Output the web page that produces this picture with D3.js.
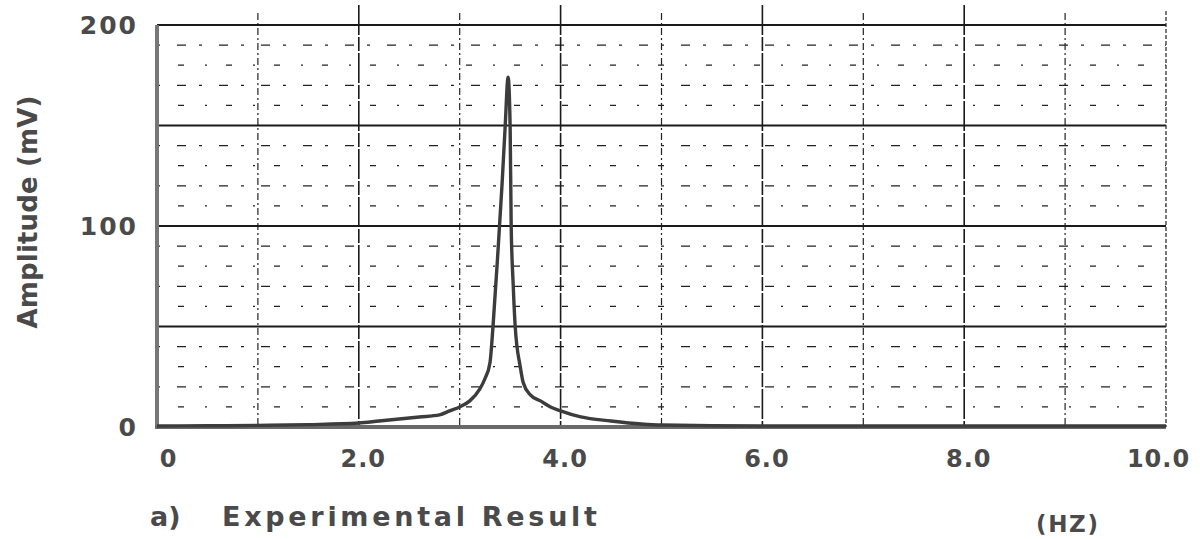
<!DOCTYPE html>
<head>
<meta charset="utf-8">
<style>
  body { margin: 0; background: #fff; }
  svg text { font-family: "DejaVu Sans", "Liberation Sans", sans-serif; font-weight: bold; fill: #4a4a4a; }
</style>
<script src="https://d3js.org/d3.v7.min.js"></script>
</head>
<body>
<script>
// frequency (Hz) and amplitude (mV)
var freq = [0, 0.5, 1.0, 1.5, 2.0, 2.2, 2.4, 2.6, 2.8, 2.9, 3.0, 3.1, 3.2, 3.25, 3.3, 3.33, 3.38, 3.42, 3.45, 3.48,
            3.50, 3.51, 3.53, 3.55, 3.60, 3.63, 3.70, 3.80, 3.90, 4.0, 4.2, 4.5, 4.8, 5.0, 6.0, 7.0, 8.0, 9.0, 10.0];
var amp  = [0.5, 0.6, 0.8, 1.2, 2, 3, 4, 5, 6, 8, 10, 13, 19, 24, 32, 50, 88, 121, 149, 174,
            149, 101, 71, 50, 30, 22, 16, 13, 10, 8, 5, 3, 1.5, 1, 0.5, 0.5, 0.5, 0.5, 0.5];

var xTicks = [0, 2, 4, 6, 8, 10];
var xTickLabels = ["0", "2.0", "4.0", "6.0", "8.0", "10.0"];
var yTicks = [0, 100, 200];
var yTickLabels = ["0", "100", "200"];
var majorY = [50, 100, 150, 200];
var minorY = [10, 20, 30, 40, 60, 70, 80, 90, 110, 120, 130, 140, 160, 170, 180, 190];
var solidX = [2, 4, 6, 8];
var dashedX = [1, 3, 5, 7, 9];

var width = 1200, height = 539;
var svg = d3.select("body").append("svg").attr("width", width).attr("height", height);

var x = d3.scaleLinear().domain([0, 10]).range([157, 1166]);
var y = d3.scaleLinear().domain([0, 200]).range([427, 25]);

// minor horizontal grid, sparse dots
svg.selectAll(".minor-y").data(minorY).enter().append("line")
    .attr("x1", x(0)).attr("x2", x(10))
    .attr("y1", function(d) { return y(d); }).attr("y2", function(d) { return y(d); })
    .attr("stroke", "#222").attr("stroke-width", 1.3)
    .attr("stroke-dasharray", function(d, i) { return i % 2 ? "3,17,9,13" : "2,19,6,21"; });

// vertical grid
svg.selectAll(".dash-x").data(dashedX).enter().append("line")
    .attr("x1", function(d) { return x(d); }).attr("x2", function(d) { return x(d); })
    .attr("y1", y(200) - 12).attr("y2", y(0))
    .attr("stroke", "#222").attr("stroke-width", 1.2).attr("stroke-dasharray", "7,3,2,3");
svg.selectAll(".solid-x").data(solidX).enter().append("line")
    .attr("x1", function(d) { return x(d); }).attr("x2", function(d) { return x(d); })
    .attr("y1", y(200) - 20).attr("y2", y(0))
    .attr("stroke", "#1a1a1a").attr("stroke-width", 1.6).attr("stroke-dasharray", "30,2,14,2");

// major horizontal grid
svg.selectAll(".major-y").data(majorY).enter().append("line")
    .attr("x1", x(0)).attr("x2", x(10))
    .attr("y1", function(d) { return y(d); }).attr("y2", function(d) { return y(d); })
    .attr("stroke", "#1a1a1a").attr("stroke-width", 1.8);

// right border (dotted) and left / bottom borders (thick grey)
svg.append("line").attr("x1", x(10)).attr("x2", x(10)).attr("y1", y(200) - 14).attr("y2", y(0))
    .attr("stroke", "#333").attr("stroke-width", 1.3).attr("stroke-dasharray", "4,2");
svg.append("line").attr("x1", x(0)).attr("x2", x(0)).attr("y1", y(200)).attr("y2", y(0) + 2)
    .attr("stroke", "#777").attr("stroke-width", 4);
svg.append("line").attr("x1", x(0) - 2).attr("x2", x(10)).attr("y1", y(0)).attr("y2", y(0))
    .attr("stroke", "#6a6a6a").attr("stroke-width", 4);

// response curve
var line = d3.line()
    .x(function(d) { return x(d[0]); })
    .y(function(d) { return y(d[1]); })
    .curve(d3.curveMonotoneX);
svg.append("path")
    .datum(d3.zip(freq, amp))
    .attr("d", line)
    .attr("fill", "none")
    .attr("stroke", "#3c3c3c")
    .attr("stroke-width", 3.4)
    .attr("stroke-linejoin", "round");

// axes
var xAxis = svg.append("g").attr("transform", "translate(0," + y(0) + ")")
    .call(d3.axisBottom(x).tickValues(xTicks).tickSize(0).tickPadding(23)
        .tickFormat(function(d, i) { return xTickLabels[i]; }));
xAxis.select(".domain").remove();
xAxis.selectAll("text").attr("font-size", 24).attr("letter-spacing", 1).attr("fill", "#4a4a4a")
    .attr("dx", function(d) { return d === 0 ? 11 : d === 10 ? -8 : 4; });

var yAxis = svg.append("g").attr("transform", "translate(" + x(0) + ",0)")
    .call(d3.axisLeft(y).tickValues(yTicks).tickSize(0).tickPadding(19)
        .tickFormat(function(d, i) { return yTickLabels[i]; }));
yAxis.select(".domain").remove();
yAxis.selectAll("text").attr("font-size", 25).attr("letter-spacing", 2).attr("fill", "#4a4a4a");

// titles
svg.append("text")
    .attr("transform", "translate(37,212) rotate(-90)")
    .attr("text-anchor", "middle")
    .attr("font-size", 26)
    .attr("textLength", 233)
    .attr("lengthAdjust", "spacing")
    .text("Amplitude (mV)");

svg.append("text")
    .attr("x", 150).attr("y", 526)
    .attr("font-size", 27)
    .text("a)");

svg.append("text")
    .attr("x", 222).attr("y", 526)
    .attr("font-size", 27)
    .attr("textLength", 375)
    .attr("lengthAdjust", "spacing")
    .text("Experimental Result");

svg.append("text")
    .attr("x", 1036).attr("y", 532)
    .attr("font-size", 23)
    .attr("textLength", 62)
    .attr("lengthAdjust", "spacing")
    .text("(HZ)");
</script>
</body>
</html>
